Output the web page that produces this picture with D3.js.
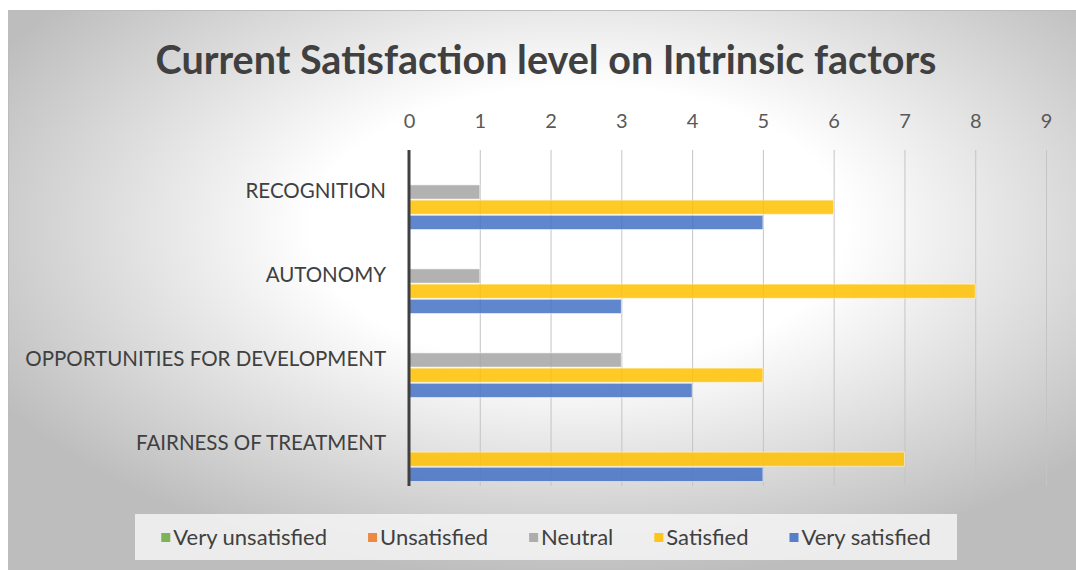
<!DOCTYPE html>
<html>
<head>
<meta charset="utf-8">
<script src="https://cdn.jsdelivr.net/npm/d3@7"></script>
<style>
  html, body { margin: 0; padding: 0; background: #ffffff; }
  svg { display: block; }
</style>
</head>
<body>
<div id="chart"></div>
<script>
// Data
const categories = ["RECOGNITION", "AUTONOMY", "OPPORTUNITIES FOR DEVELOPMENT", "FAIRNESS OF TREATMENT"];
const seriesNames = ["Very unsatisfied", "Unsatisfied", "Neutral", "Satisfied", "Very satisfied"];
const veryUnsatisfied = [0, 0, 0, 0];
const unsatisfied = [0, 0, 0, 0];
const neutral = [1, 1, 3, 0];
const satisfied = [6, 8, 5, 7];
const verySatisfied = [5, 3, 4, 5];
const tickValues = [0, 1, 2, 3, 4, 5, 6, 7, 8, 9];

const seriesValues = [veryUnsatisfied, unsatisfied, neutral, satisfied, verySatisfied];
const colorScheme = ["#70AD47", "#ED7D31", "#A5A5A5", "#FFC000", "#4472C4"];

const width = 1076;
const height = 570;
const plot = { left: 409, right: 1046, top: 150, bottom: 486 };
const font = "Lato, 'Open Sans', sans-serif";

const svg = d3.select("#chart")
    .append("svg")
    .attr("width", width)
    .attr("height", height);

// background with radial gradient
const defs = svg.append("defs");
const grad = defs.append("radialGradient")
    .attr("id", "bg")
    .attr("cx", "53%")
    .attr("cy", "38%")
    .attr("r", "62%");
grad.append("stop").attr("offset", "0%").attr("stop-color", "#ffffff");
grad.append("stop").attr("offset", "40%").attr("stop-color", "#ffffff");
grad.append("stop").attr("offset", "100%").attr("stop-color", "#bdbdbd");

svg.append("rect")
    .attr("x", 8.5)
    .attr("y", 10.5)
    .attr("width", width)
    .attr("height", height)
    .attr("fill", "url(#bg)")
    .attr("stroke", "#bcbcbc")
    .attr("stroke-width", 1);

// Title
svg.append("text")
    .attr("x", 546)
    .attr("y", 74)
    .attr("text-anchor", "middle")
    .style("font-family", font)
    .style("font-weight", "bold")
    .style("font-size", "39.5px")
    .style("fill", "#404040")
    .text("Current Satisfaction level on Intrinsic factors");

// Scales
const x = d3.scaleLinear()
    .domain([0, 9])
    .range([plot.left, plot.right]);

const y0 = d3.scaleBand()
    .domain(categories)
    .range([plot.top, plot.bottom]);

const y1 = d3.scaleBand()
    .domain(seriesNames)
    .range([4.5, y0.bandwidth() - 4.5])
    .paddingInner(1 / 15);

// Axis with gridlines
const xAxis = svg.append("g")
    .attr("transform", `translate(0,${plot.top})`)
    .call(d3.axisTop(x)
        .tickValues(tickValues)
        .tickSize(-(plot.bottom - plot.top))
        .tickPadding(22)
        .tickFormat(d3.format("d")));

xAxis.select(".domain").remove();
xAxis.selectAll(".tick line")
    .attr("stroke", "#c4c4c4")
    .attr("stroke-width", 1);
xAxis.selectAll(".tick text")
    .style("font-family", font)
    .style("font-size", "20px")
    .style("fill", "#595959");

// Bars
const groups = svg.selectAll(".cat")
    .data(categories)
    .enter()
    .append("g")
    .attr("class", "cat")
    .attr("transform", d => `translate(0,${y0(d)})`);

groups.selectAll("rect")
    .data((d, ci) => seriesNames.map((s, si) => ({ series: s, si: si, value: seriesValues[si][ci] })))
    .enter()
    .filter(d => d.value > 0)
    .append("rect")
    .attr("x", x(0))
    .attr("y", d => y1(d.series))
    .attr("width", d => x(d.value) - x(0))
    .attr("height", y1.bandwidth())
    .attr("fill", d => colorScheme[d.si])
    .attr("fill-opacity", 0.85)
    .attr("stroke", "#ffffff")
    .attr("stroke-opacity", 0.5)
    .attr("stroke-width", 1);

// vertical axis line
svg.append("line")
    .attr("x1", x(0))
    .attr("x2", x(0))
    .attr("y1", plot.top)
    .attr("y2", plot.bottom)
    .attr("stroke", "#404040")
    .attr("stroke-width", 3);

// Category labels
svg.selectAll(".cat-label")
    .data(categories)
    .enter()
    .append("text")
    .attr("class", "cat-label")
    .attr("x", 386)
    .attr("y", d => y0(d) + y0.bandwidth() / 2 - 1)
    .attr("dy", "0.35em")
    .attr("text-anchor", "end")
    .style("font-family", font)
    .style("font-size", "20.5px")
    .style("fill", "#404040")
    .text(d => d);

// Legend
const legendBox = { x: 135, y: 514, w: 822, h: 46 };
svg.append("rect")
    .attr("x", legendBox.x)
    .attr("y", legendBox.y)
    .attr("width", legendBox.w)
    .attr("height", legendBox.h)
    .attr("fill", "#f4f4f4")
    .attr("fill-opacity", 0.85);

const legend = svg.append("g");
const items = legend.selectAll(".legend")
    .data(seriesNames)
    .enter()
    .append("g")
    .attr("class", "legend");

items.append("rect")
    .attr("x", 0)
    .attr("y", -4)
    .attr("width", 9)
    .attr("height", 9)
    .attr("fill", (d, i) => colorScheme[i])
    .attr("fill-opacity", 0.9);

items.append("text")
    .attr("x", 12)
    .attr("y", 0)
    .attr("dy", "0.35em")
    .style("font-family", font)
    .style("font-size", "22px")
    .style("fill", "#404040")
    .text(d => d);

// lay legend items out in a row
const gap = 41;
let cursor = 0;
const offsets = [];
items.each(function() {
    offsets.push(cursor);
    cursor += this.getBBox().width + gap;
});
const total = cursor - gap;
const startX = legendBox.x + (legendBox.w - total) / 2;
items.attr("transform", (d, i) => `translate(${startX + offsets[i]},${legendBox.y + legendBox.h / 2})`);
</script>
</body>
</html>
